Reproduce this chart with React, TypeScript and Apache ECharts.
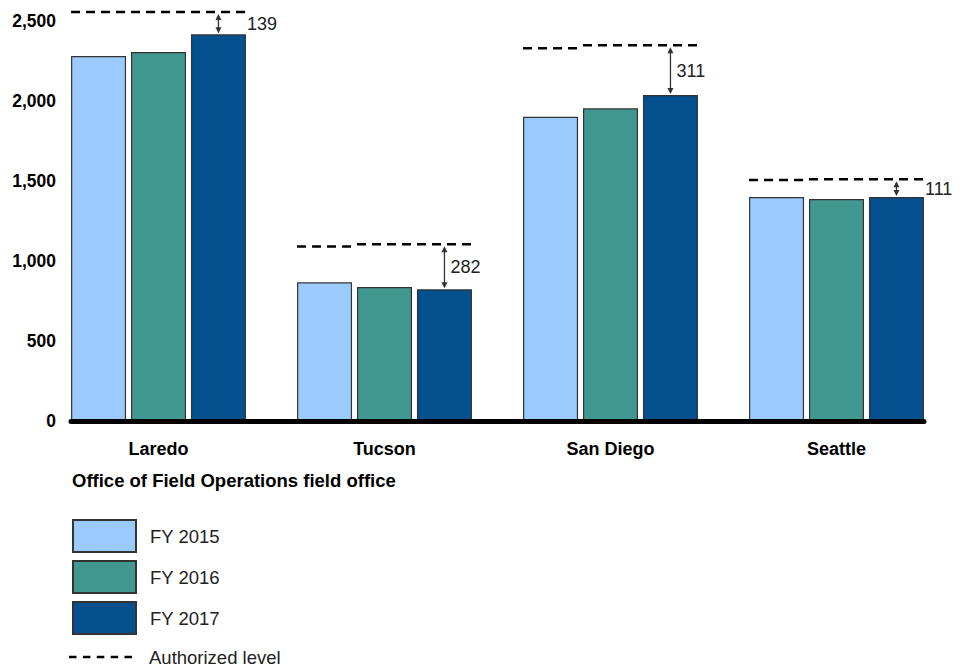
import React, { useEffect, useRef } from 'react';
import * as echarts from 'echarts';

const categories = ['Laredo', 'Tucson', 'San Diego', 'Seattle'];
const yearNames = ['FY 2015', 'FY 2016', 'FY 2017'];
const fy2015 = [2281, 867, 1902, 1400];
const fy2016 = [2306, 837, 1954, 1387];
const fy2017 = [2417, 823, 2037, 1400];
const authorized2015 = [2556, 1090, 2329, 1506];
const authorized2016 = [2556, 1105, 2348, 1511];
const authorized2017 = [2556, 1105, 2348, 1511];
const axisTitle = 'Office of Field Operations field office';
const authName = 'Authorized level';

const colors = ['#9BCBFD', '#409891', '#05508F'];
const FONT = '"Liberation Sans", Arial, Helvetica, sans-serif';
const CAT_GAP = 0.226;
const BAR_GAP = 0.09;
const DASH = [9, 6];
const DASH_ICON =
  'path://M0,0h7.5v2.5h-7.5z M13.9,0h7.5v2.5h-7.5z M27.8,0h7.5v2.5h-7.5z M41.7,0h7.5v2.5h-7.5z M55.5,0h7.5v2.5h-7.5z';

export default function App() {
  const ref = useRef<HTMLDivElement>(null);
  useEffect(() => {
    if (!ref.current) return;
    const chart = echarts.init(ref.current, undefined, { renderer: 'svg' });
    const yearData = [fy2015, fy2016, fy2017];
    const barSeries = yearNames.map((name, k) => ({
      name,
      type: 'bar',
      xAxisIndex: 0,
      yAxisIndex: 0,
      data: yearData[k],
      barCategoryGap: (CAT_GAP * 100).toFixed(1) + '%',
      barGap: (BAR_GAP * 100).toFixed(0) + '%',
      itemStyle: { color: colors[k], borderColor: '#333', borderWidth: 1.2 },
      z: 2,
    }));
    const customData = categories.map((_, i) => [
      i,
      authorized2015[i],
      authorized2016[i],
      authorized2017[i],
      fy2017[i],
    ]);
    const legendText = { fontSize: 18.5, color: '#222', fontFamily: FONT, padding: [0, 0, 0, 9] };
    const option: any = {
      animation: false,
      title: {
        text: axisTitle,
        left: 72,
        top: 471,
        padding: 0,
        textStyle: { fontSize: 18.5, fontWeight: 'bold', color: '#000', fontFamily: FONT },
      },
      legend: [
        {
          orient: 'vertical',
          left: 72,
          top: 519,
          padding: 0,
          itemWidth: 63,
          itemHeight: 32,
          itemGap: 7,
          selectedMode: false,
          data: yearNames.map((n) => ({ name: n, icon: 'rect' })),
          textStyle: legendText,
        },
        {
          orient: 'vertical',
          left: 69,
          top: 646,
          padding: 0,
          itemWidth: 63,
          itemHeight: 2.5,
          selectedMode: false,
          data: [{ name: authName, icon: DASH_ICON }],
          textStyle: { ...legendText, padding: [0, 0, 0, 12], lineHeight: 22 },
        },
      ],
      grid: [
        { left: 45.5, right: 17.5, top: 21, bottom: 246 },
        { left: 71, right: 43, top: 21, bottom: 246 },
      ],
      xAxis: [
        {
          type: 'category',
          gridIndex: 0,
          data: categories,
          axisLine: { show: false },
          axisTick: { show: false },
          axisLabel: { fontSize: 18, fontWeight: 'bold', color: '#000', fontFamily: FONT, margin: 19 },
        },
        {
          type: 'value',
          gridIndex: 1,
          z: 10,
          axisLine: { show: true, lineStyle: { color: '#000', width: 5 } },
          axisTick: { show: false },
          axisLabel: { show: false },
          splitLine: { show: false },
        },
      ],
      yAxis: [
        { type: 'value', gridIndex: 0, min: 0, max: 2500, interval: 500, show: false },
        {
          type: 'value',
          gridIndex: 1,
          min: 0,
          max: 2500,
          interval: 500,
          axisLine: { show: false },
          axisTick: { show: false },
          splitLine: { show: false },
          axisLabel: {
            fontSize: 17.5,
            fontWeight: 'bold',
            color: '#000',
            fontFamily: FONT,
            margin: 15,
            formatter: (v: number) => v.toLocaleString('en-US'),
          },
        },
      ],
      series: [
        ...barSeries,
        {
          type: 'custom',
          name: authName,
          xAxisIndex: 0,
          yAxisIndex: 0,
          z: 5,
          itemStyle: { color: '#000' },
          data: customData,
          encode: { x: 0, y: [1, 2, 3, 4] },
          renderItem: (params: any, api: any) => {
            const i = api.value(0);
            const cx = api.coord([i, 0])[0];
            const band = api.size([1, 0])[0];
            const barW = (band * (1 - CAT_GAP)) / (3 + 2 * BAR_GAP);
            const step = barW * (1 + BAR_GAP);
            const total = 3 * barW + 2 * BAR_GAP * barW;
            const left0 = cx - total / 2;
            const auth = [api.value(1), api.value(2), api.value(3)];
            const val17 = api.value(4);
            const children: any[] = [];
            let s = 0;
            for (let j = 1; j <= 3; j++) {
              if (j === 3 || auth[j] !== auth[s]) {
                const y = api.coord([i, auth[s]])[1];
                const x1 = left0 + s * step;
                const x2 = left0 + (j - 1) * step + barW + 1;
                children.push({
                  type: 'line',
                  shape: { x1, y1: y, x2, y2: y },
                  style: { stroke: '#000', lineWidth: 2.5, lineDash: DASH },
                });
                s = j;
              }
            }
            const ax = left0 + 2 * step + barW / 2;
            const yTop = api.coord([i, auth[2]])[1] + 2;
            const yBar = api.coord([i, val17])[1] - 1;
            const head = 6;
            children.push({
              type: 'line',
              shape: { x1: ax, y1: yTop + 2, x2: ax, y2: yBar - 2 },
              style: { stroke: '#333', lineWidth: 1.3 },
            });
            children.push({
              type: 'polygon',
              shape: { points: [[ax, yTop], [ax - 3, yTop + head], [ax + 3, yTop + head]] },
              style: { fill: '#333' },
            });
            children.push({
              type: 'polygon',
              shape: { points: [[ax, yBar], [ax - 3, yBar - head], [ax + 3, yBar - head]] },
              style: { fill: '#333' },
            });
            const mid = (yTop + yBar) / 2;
            const short = yBar - yTop < 30;
            const tx = short ? left0 + 2 * step + barW + 1 : ax + 6;
            children.push({
              type: 'text',
              style: {
                text: String(Math.round(auth[2] - val17)),
                x: tx,
                y: mid,
                fontSize: 18,
                fontFamily: FONT,
                fill: '#222',
                align: 'left',
                verticalAlign: 'middle',
              },
            });
            return { type: 'group', children };
          },
        },
      ],
    };
    chart.setOption(option);
    return () => chart.dispose();
  }, []);
  return (
    <div
      ref={ref}
      style={{ position: 'fixed', left: 0, top: 0, width: 967, height: 667, background: '#fff' }}
    />
  );
}
